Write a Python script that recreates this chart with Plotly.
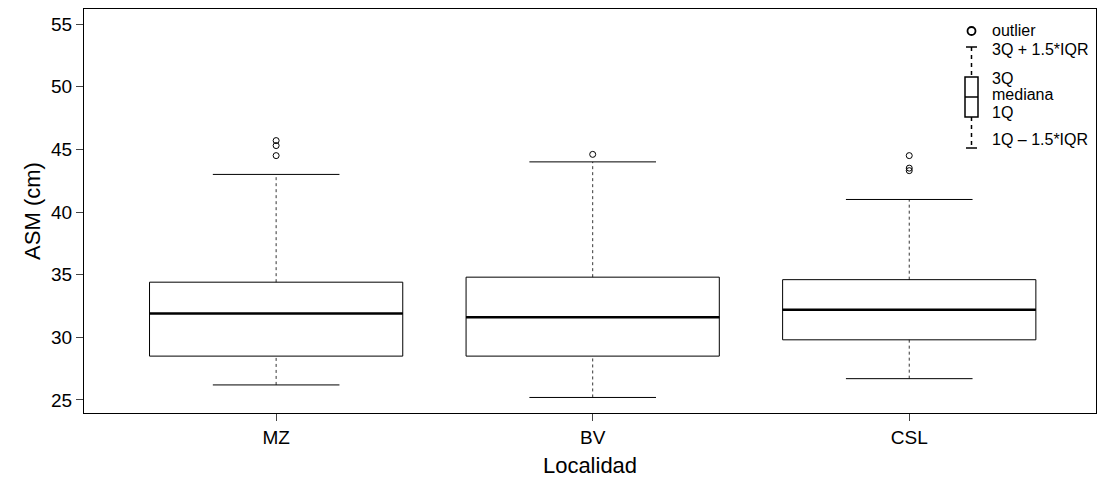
import plotly.graph_objects as go

localidades = ['MZ', 'BV', 'CSL']
lower = [26.2, 25.2, 26.7]
q1 = [28.5, 28.5, 29.8]
mediana = [31.9, 31.6, 32.2]
q3 = [34.4, 34.8, 34.6]
upper = [43.0, 44.0, 41.0]
outliers = [[45.7, 45.3, 44.5], [44.6], [44.5, 43.5, 43.3]]

pos = [1, 2, 3]
half = 0.4
cap = 0.2

fig = go.Figure()
for i, p in enumerate(pos):
    fig.add_trace(go.Box(x=[p], q1=[q1[i]], median=[mediana[i]], q3=[q3[i]],
                         lowerfence=[q1[i]], upperfence=[q3[i]], width=0.8,
                         whiskerwidth=0, fillcolor='white',
                         line=dict(color='black', width=1), showlegend=False,
                         hoverinfo='skip'))
    # median
    fig.add_trace(go.Scatter(x=[p - half, p + half], y=[mediana[i]] * 2, mode='lines',
                             line=dict(color='black', width=2.5), showlegend=False))
    # whiskers
    for a, b in [(lower[i], q1[i]), (q3[i], upper[i])]:
        fig.add_trace(go.Scatter(x=[p, p], y=[a, b], mode='lines',
                                 line=dict(color='black', width=0.8, dash='3px,3px'), showlegend=False))
    for v in [lower[i], upper[i]]:
        fig.add_trace(go.Scatter(x=[p - cap, p + cap], y=[v, v], mode='lines',
                                 line=dict(color='black', width=1), showlegend=False))
    fig.add_trace(go.Scatter(x=[p] * len(outliers[i]), y=outliers[i], mode='markers',
                             marker=dict(symbol='circle-open', size=6, color='black', line=dict(width=1)),
                             showlegend=False))

# key in the top-right corner (pixel positions -> paper)
def X(px):
    return (px - 83) / 1012

def Y(py):
    return (412 - py) / 404

shapes = []
def ln(x0, y0, x1, y1, dash='solid', w=1.5):
    shapes.append(dict(type='line', xref='paper', yref='paper', x0=X(x0), y0=Y(y0), x1=X(x1), y1=Y(y1),
                       line=dict(color='black', width=w, dash=dash)))

ln(965, 46, 976, 46)
ln(970.5, 46, 970.5, 76, dash='4px,4px')
shapes.append(dict(type='rect', xref='paper', yref='paper', x0=X(964), y0=Y(116), x1=X(977), y1=Y(76),
                   line=dict(color='black', width=1.5)))
ln(964, 96, 977, 96)
ln(970.5, 116, 970.5, 147, dash='4px,4px')
ln(965, 147, 976, 147)
shapes.append(dict(type='circle', xref='paper', yref='paper', x0=X(966.5), y0=Y(34), x1=X(974.5), y1=Y(26),
                   line=dict(color='black', width=1.8)))

ann = []
for txt, py in [('outlier', 29), ('3Q + 1.5*IQR', 49), ('3Q', 77), ('mediana', 94),
                ('1Q', 111), ('1Q \u2013 1.5*IQR', 139)]:
    ann.append(dict(text=txt, xref='paper', yref='paper', x=X(989), y=Y(py), xanchor='left',
                    yanchor='middle', showarrow=False, font=dict(size=16, color='black')))

fig.update_layout(
    width=1107, height=483, plot_bgcolor='white', paper_bgcolor='white',
    margin=dict(l=76, r=19, t=1, b=78),
    font=dict(family='Liberation Sans, Arial', size=18, color='black'),
    shapes=shapes, annotations=ann,
    xaxis=dict(range=[0.393, 3.59], tickvals=pos, ticktext=localidades, ticks='outside',
               ticklen=7, showgrid=False, zeroline=False, showline=True, linecolor='black',
               mirror=True, tickfont=dict(size=19), title=dict(text='Localidad', standoff=10)),
    yaxis=dict(range=[23.96, 56.2], tickvals=[25, 30, 35, 40, 45, 50, 55], ticks='outside',
               ticklen=7, showgrid=False, zeroline=False, showline=True, linecolor='black',
               mirror=True, tickfont=dict(size=19), title=dict(text='ASM (cm)', standoff=4)),
)
fig.write_html('out.html')
